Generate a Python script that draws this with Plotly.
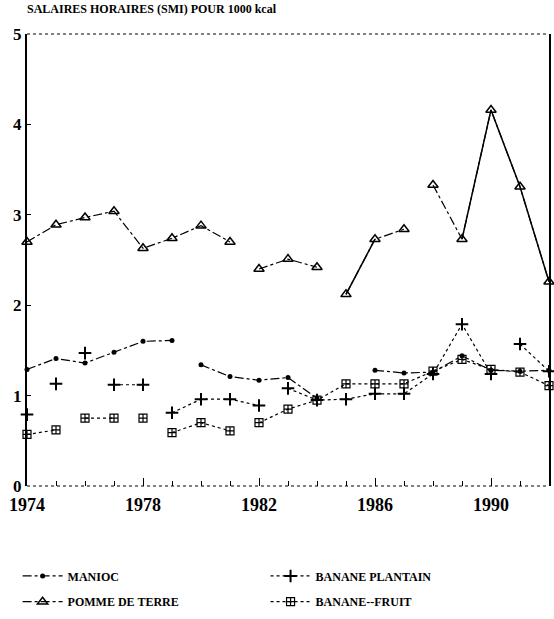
import plotly.graph_objects as go

years = list(range(1974, 1993))

# salaires horaires (SMI) pour 1000 kcal
manioc = [1.29, 1.41, 1.36, 1.48, 1.60, 1.61, 1.34, 1.21, 1.17, 1.20,
          0.97, None, 1.28, 1.25, 1.26, 1.44, 1.28, 1.27, 1.28]
plantain = [0.79, 1.13, 1.47, 1.12, 1.12, 0.81, 0.96, 0.96, 0.89, 1.08,
            0.95, 0.96, 1.02, 1.02, 1.24, 1.79, 1.24, 1.57, 1.27]
pomme_de_terre = [2.70, 2.89, 2.97, 3.04, 2.63, 2.74, 2.88, 2.70, 2.40, 2.51,
                  2.42, 2.12, 2.73, 2.84, 3.33, 2.73, 4.16, 3.31, 2.26]
banane_fruit = [0.57, 0.62, 0.75, 0.75, 0.75, 0.59, 0.70, 0.61, 0.70, 0.85,
                0.95, 1.13, 1.13, 1.13, 1.27, 1.40, 1.29, 1.26, 1.11]

# years after which the printed line is interrupted
manioc_breaks = [1979, 1984]
plantain_breaks = [1974, 1975, 1976, 1978, 1982, 1990]
pomme_breaks = [1981, 1984, 1987]
fruit_breaks = [1975, 1977, 1978, 1981]

x_ticks = [1974, 1978, 1982, 1986, 1990]

SERIF = "Liberation Serif"


def with_gaps(xs, ys, breaks):
    gx, gy = [], []
    for x, y in zip(xs, ys):
        gx.append(x)
        gy.append(y)
        if x in breaks:
            gx.append(None)
            gy.append(None)
    return gx, gy


fig = go.Figure()

# (name, values, breaks, marker, dash, legend)
series = [
    ("MANIOC", manioc, manioc_breaks,
     dict(symbol="circle", size=5, color="black"), "dashdot", "legend"),
    ("BANANE PLANTAIN", plantain, plantain_breaks,
     dict(symbol="cross-thin", size=9, color="black", line=dict(color="black", width=2)), "dot", "legend2"),
    ("POMME DE TERRE", pomme_de_terre, pomme_breaks,
     dict(symbol="triangle-up-open", size=9, color="black", line=dict(color="black", width=1.5)), "dashdot", "legend3"),
    ("BANANE--FRUIT", banane_fruit, fruit_breaks,
     dict(symbol="square-cross-open", size=8, color="black", line=dict(color="black", width=1.2)), "dot", "legend4"),
]

for name, vals, brk, marker, dash, leg in series:
    gx, gy = with_gaps(years, vals, brk)
    fig.add_trace(go.Scatter(
        x=gx, y=gy, name=f"<b>{name}</b>", mode="lines+markers",
        line=dict(color="black", width=1.2, dash=dash),
        marker=marker, cliponaxis=False, connectgaps=False, legend=leg
    ))

# solid stretches of the potato curve
for seg in [(1985, 1986), (1989, 1992)]:
    sx = [y for y in years if seg[0] <= y <= seg[1]]
    sy = [pomme_de_terre[years.index(y)] for y in sx]
    fig.add_trace(go.Scatter(
        x=sx, y=sy, mode="lines", showlegend=False, hoverinfo="skip",
        line=dict(color="black", width=1.5), cliponaxis=False
    ))

# dotted top and bottom frame
for yy in [0, 1]:
    fig.add_shape(type="line", xref="paper", yref="paper",
                  x0=0, x1=1, y0=yy, y1=yy,
                  line=dict(color="black", width=1, dash="dot"))

legend_style = dict(xref="paper", xanchor="left", yanchor="middle",
                    font=dict(family=SERIF, size=12, color="black"),
                    itemwidth=40, bgcolor="rgba(0,0,0,0)")

fig.update_layout(
    width=554, height=619,
    paper_bgcolor="white", plot_bgcolor="white",
    margin=dict(l=27, r=3, t=34, b=132),
    font=dict(family=SERIF, color="black"),
    title=dict(text="<b>SALAIRES HORAIRES (SMI) POUR 1000 kcal</b>",
               x=0, xref="paper", xanchor="left",
               y=0.992, yanchor="top",
               font=dict(family=SERIF, size=12, color="black")),
    xaxis=dict(range=[1974, 1992], tickvals=x_ticks,
               ticktext=[f"<b>{t}</b>" for t in x_ticks],
               ticks="inside", ticklen=8, tickcolor="black",
               ticklabelstandoff=6,
               minor=dict(dtick=1, ticks="inside", ticklen=5, tickcolor="black"),
               showgrid=False, zeroline=False, showline=False,
               tickfont=dict(family=SERIF, size=18, color="black")),
    yaxis=dict(range=[0, 5], tickvals=[0, 1, 2, 3, 4, 5],
               ticktext=[f"<b>{t}</b>" for t in range(6)],
               ticks="inside", ticklen=4, tickcolor="black",
               showgrid=False, zeroline=False,
               showline=True, linecolor="black", linewidth=2, mirror=True,
               tickfont=dict(family=SERIF, size=17, color="black")),
    showlegend=True,
    legend=dict(legend_style, x=-0.018, y=-0.199),
    legend2=dict(legend_style, x=0.457, y=-0.199),
    legend3=dict(legend_style, x=-0.018, y=-0.256),
    legend4=dict(legend_style, x=0.457, y=-0.256),
)

fig.write_html(
    "out.html",
    config={"displayModeBar": False},
    post_script="document.body.style.margin='0';document.body.style.overflow='hidden';",
)
